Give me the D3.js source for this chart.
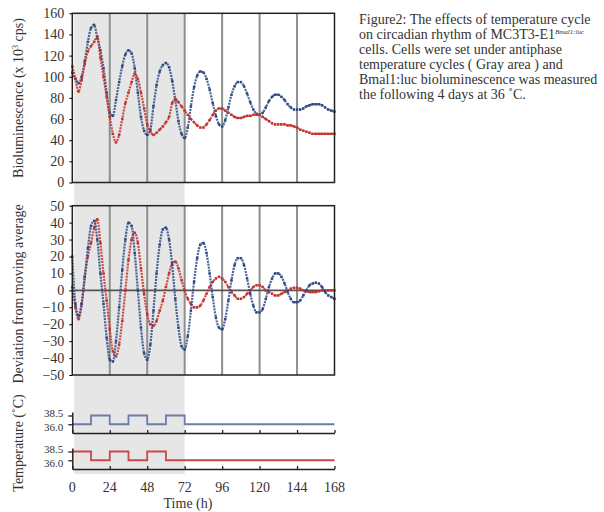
<!DOCTYPE html>
<html>
<head>
<meta charset="utf-8">
<script src="https://cdn.jsdelivr.net/npm/d3@7"></script>
<style>
  body { margin: 0; background: #fff; }
  text { font-family: "Liberation Serif", "Times New Roman", serif; fill: #333; }
</style>
</head>
<body>
<svg id="chart" width="604" height="512"></svg>
<script>
// sample times (h), one reading every 2 h
const hours = d3.range(0, 169, 2);

// bioluminescence (x 10^3 cps)
const blueBio = [104, 98, 94, 100, 115, 133, 146, 149, 137, 125, 108, 85, 66, 63, 78, 95, 110, 121, 125, 122,
  108, 85, 62, 49, 45, 50, 72, 92, 105, 111, 113, 109, 96, 78, 58, 46, 42, 52, 72, 90,
  101, 105, 104, 98, 88, 75, 63, 55, 53, 59, 71, 83, 91, 95, 95, 91, 84, 76, 69, 65,
  64, 66, 71, 77, 81, 83, 83, 81, 78, 74, 71, 69, 69, 69, 70, 72, 73, 74, 74, 74,
  73, 71, 69, 68, 67];
const redBio = [110, 98, 86, 97, 112, 124, 129, 133, 138, 118, 100, 81, 62, 46, 38, 45, 60, 75, 85, 95,
  103, 98, 85, 70, 55, 48, 45, 47, 50, 53, 57, 62, 75, 79, 76, 72, 68, 64, 60, 57,
  54, 52, 52, 55, 59, 64, 68, 70, 70, 68, 66, 64, 62, 61, 61, 62, 63, 63, 64, 64,
  64, 62, 60, 58, 56, 55, 55, 55, 55, 54, 54, 53, 52, 50, 49, 48, 47, 46, 46, 46,
  46, 46, 46, 46, 46];

// deviation from moving average
const blueDev = [20, -8, -15, -8, 8, 25, 38, 41, 30, 10, -8, -28, -41, -42, -30, -10, 12, 30, 40, 38,
  22, 0, -22, -37, -41, -32, -12, 10, 27, 36, 37, 30, 15, -5, -22, -33, -35, -27, -12, 5,
  19, 27, 28, 22, 10, -4, -16, -22, -23, -17, -6, 6, 15, 19, 19, 15, 7, -2, -9, -13,
  -13, -11, -5, 2, 7, 10, 10, 8, 4, -1, -5, -7, -7, -6, -3, 0, 3, 4, 4.5, 4,
  2, -1, -3, -4, -5];
const redDev = [2, -10, -17, -8, 8, 20, 28, 37, 42, 28, 10, -6, -23, -36, -39, -32, -18, 0, 18, 30,
  34, 28, 13, -2, -14, -20, -21, -18, -12, -6, 2, 10, 16, 17, 13, 6, 0, -5, -8, -10,
  -10, -9, -6, -2, 2, 5, 7, 8, 7, 5, 2, -1, -3, -5, -5, -4, -2, 0, 2, 3,
  3, 2, 0, -1, -2, -3, -3, -2, -1, 0, 1, 1.5, 1.5, 1, 0, -0.5, -1, -1, -1, -0.5,
  0, 0, 0, 0, 0];

// temperature programme (step changes)
const stepTimes = [0, 12, 24, 36, 48, 60, 72, 168];
const blueTemp = [36, 38.5, 36, 38.5, 36, 38.5, 36, 36];
const redTemp = [38.5, 36, 38.5, 36, 38.5, 36, 36, 36];

const timeTicks = [0, 24, 48, 72, 96, 120, 144, 168];
const bioTicks = [0, 20, 40, 60, 80, 100, 120, 140, 160];
const devTicks = [-50, -40, -30, -20, -10, 0, 10, 20, 30, 40, 50];
const tempTicks = [36.0, 38.5];

const captionLines = [
  'Figure2: The effects of temperature cycle',
  'on circadian rhythm of MC3T3-E1',
  'cells. Cells were set under antiphase',
  'temperature cycles ( Gray area ) and',
  'Bmal1:luc bioluminescence was measured',
  'the following 4 days at 36 ˚C.'
];

const BLUE = '#2d4a82';
const RED = '#c3312c';

const svg = d3.select('#chart');
svg.append('rect').attr('width', 604).attr('height', 512).attr('fill', '#fff');

// scales
const x = d3.scaleLinear().domain([0, 168]).range([72.3, 334.5]);
const yBio = d3.scaleLinear().domain([0, 160]).range([182.5, 13.3]);
const yDev = d3.scaleLinear().domain([-50, 50]).range([375, 205.7]);
const yTempB = d3.scaleLinear().domain([33.5, 39.5]).range([433, 412]);
const yTempR = d3.scaleLinear().domain([33.5, 39.5]).range([469, 448]);

// gray area for the antiphase cycles
svg.append('rect')
  .attr('x', x(0) + 2)
  .attr('y', yBio(160))
  .attr('width', x(72) - x(0) - 2)
  .attr('height', 474 - yBio(160))
  .attr('fill', '#e6e6e6');

// draws one scatter panel with grid, frame and y axis
const drawPanel = (yScale, ticks, series, zeroLine) => {
  const g = svg.append('g');
  const [y0, y1] = yScale.range();

  // vertical grid lines every 24 h
  g.selectAll('.grid')
    .data(timeTicks.slice(1, -1))
    .join('line')
    .attr('x1', (d) => x(d)).attr('x2', (d) => x(d))
    .attr('y1', y1).attr('y2', y0)
    .attr('stroke', '#8e8e8e')
    .attr('stroke-width', 2);

  if (zeroLine) {
    g.append('line')
      .attr('x1', x(0)).attr('x2', x(168))
      .attr('y1', yScale(0)).attr('y2', yScale(0))
      .attr('stroke', '#555')
      .attr('stroke-width', 1.6);
  }

  const line = d3.line()
    .x((d) => x(d[0]))
    .y((d) => yScale(d[1]))
    .curve(d3.curveMonotoneX);

  series.forEach(({ values, color }) => {
    const pts = values.map((v, i) => [hours[i], v]);
    // dotted trace: a thin dashed line plus a square at each reading
    g.append('path')
      .datum(pts)
      .attr('fill', 'none')
      .attr('stroke', color)
      .attr('stroke-width', 2.2)
      .attr('stroke-dasharray', '2 1')
      .attr('stroke-opacity', 0.85)
      .attr('d', line);
    g.selectAll(null)
      .data(pts)
      .join('rect')
      .attr('x', (d) => x(d[0]) - 1.2)
      .attr('y', (d) => yScale(d[1]) - 1.2)
      .attr('width', 2.4)
      .attr('height', 2.4)
      .attr('fill', color);
  });

  // frame
  g.append('rect')
    .attr('x', x(0)).attr('y', y1)
    .attr('width', x(168) - x(0)).attr('height', y0 - y1)
    .attr('fill', 'none')
    .attr('stroke', '#222')
    .attr('stroke-width', 1.5);

  const axis = g.append('g')
    .attr('transform', `translate(${x(0)},0)`)
    .call(d3.axisLeft(yScale).tickValues(ticks).tickSize(3).tickPadding(5));
  axis.select('.domain').remove();
  axis.selectAll('text').style('font-size', '14px').attr('fill', '#333');
};

drawPanel(yBio, bioTicks, [
  { values: blueBio, color: BLUE },
  { values: redBio, color: RED },
], false);

drawPanel(yDev, devTicks, [
  { values: redDev, color: RED },
  { values: blueDev, color: BLUE },
], true);

// temperature panels
const drawTemp = (yScale, temps, color) => {
  const g = svg.append('g');
  g.append('path')
    .datum(stepTimes.map((t, i) => [t, temps[i]]))
    .attr('fill', 'none')
    .attr('stroke', color)
    .attr('stroke-width', 1.8)
    .attr('d', d3.line().x((d) => x(d[0])).y((d) => yScale(d[1])).curve(d3.curveStepAfter));

  const yAxis = g.append('g')
    .attr('transform', `translate(${x(0)},0)`)
    .call(d3.axisLeft(yScale).tickValues(tempTicks).tickFormat(d3.format('.1f')).tickSize(4).tickSizeOuter(0).tickPadding(5));
  yAxis.select('.domain').attr('stroke', '#222').attr('stroke-width', 1.5);
  yAxis.selectAll('.tick line').attr('stroke', '#222').attr('stroke-width', 1.3);
  // the two labels sit very close; nudge them apart a little
  yAxis.selectAll('text')
    .style('font-size', '11px')
    .attr('fill', '#333')
    .attr('y', (d) => (d > 37 ? -2.5 : 2.5));

  const xAxis = g.append('g')
    .attr('transform', `translate(0,${yScale.range()[0]})`)
    .call(d3.axisTop(x).tickValues(timeTicks).tickSize(3).tickSizeOuter(0).tickFormat(''));
  xAxis.select('.domain').attr('stroke', '#222').attr('stroke-width', 1.5);
  xAxis.selectAll('.tick line').attr('stroke', '#222').attr('stroke-width', 1.3);
};

drawTemp(yTempB, blueTemp, '#6c7cab');
drawTemp(yTempR, redTemp, '#c94848');

// time tick labels under the temperature panels
svg.append('g')
  .selectAll('text')
  .data(timeTicks)
  .join('text')
  .attr('x', (d) => x(d))
  .attr('y', 492)
  .attr('text-anchor', 'middle')
  .style('font-size', '14px')
  .text((d) => d);

svg.append('text')
  .attr('x', 188).attr('y', 508)
  .attr('text-anchor', 'middle')
  .style('font-size', '14px')
  .text('Time (h)');

// axis titles
const bioLabel = svg.append('text')
  .attr('transform', 'translate(23,98) rotate(-90)')
  .attr('text-anchor', 'middle')
  .style('font-size', '14px');
bioLabel.append('tspan').text('Bioluminescence (x 10');
bioLabel.append('tspan').attr('dy', -5).style('font-size', '8px').text('3');
bioLabel.append('tspan').attr('dy', 5).text(' cps)');

svg.append('text')
  .attr('transform', 'translate(23,294) rotate(-90)')
  .attr('text-anchor', 'middle')
  .style('font-size', '14px')
  .text('Deviation from moving average');

svg.append('text')
  .attr('transform', 'translate(23,443) rotate(-90)')
  .attr('text-anchor', 'middle')
  .style('font-size', '14px')
  .text('Temperature (˚C)');

// caption
const caption = svg.append('g').attr('transform', 'translate(359,24)');
captionLines.forEach((line, i) => {
  const t = caption.append('text')
    .attr('y', i * 15)
    .style('font-size', '14px')
    .text(line);
  if (i === 1) {
    t.append('tspan')
      .attr('dy', -5)
      .style('font-size', '7px')
      .style('font-style', 'italic')
      .text('Bmal1:luc');
  }
});
</script>
</body>
</html>
